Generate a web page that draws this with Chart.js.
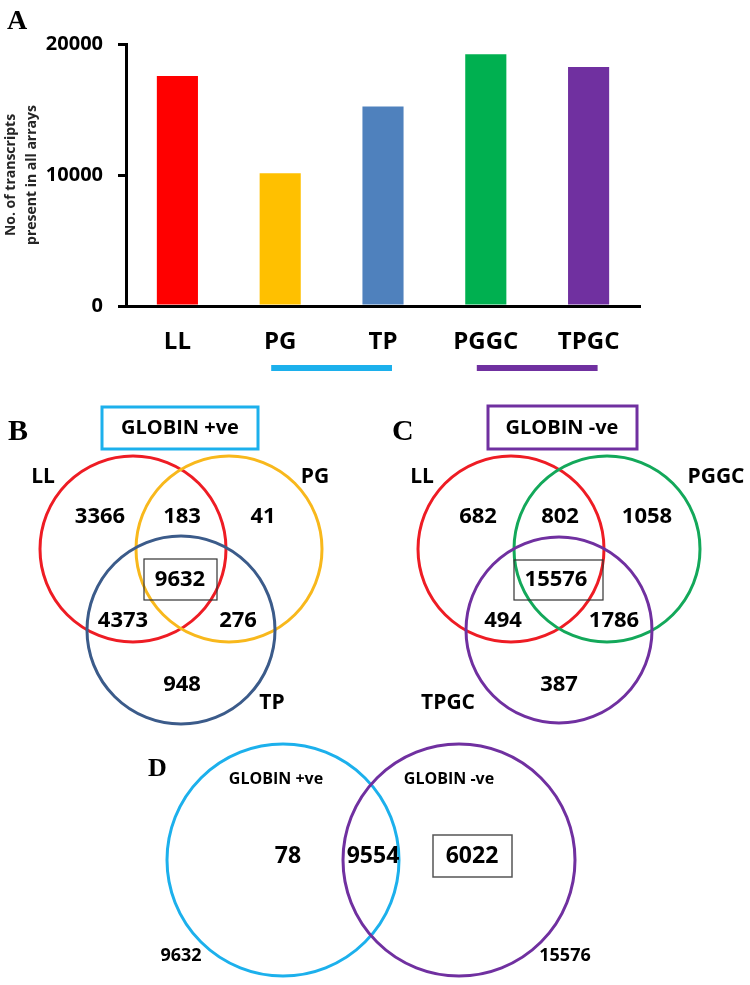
<!DOCTYPE html>
<html>
<head>
<meta charset="utf-8">
<script src="https://cdn.jsdelivr.net/npm/chart.js@4.4.0/dist/chart.umd.min.js"></script>
<style>
  html, body { margin: 0; padding: 0; background: #fff; }
  #wrap { position: relative; width: 750px; height: 985px; }
  canvas { position: absolute; left: 0; }
  #barChart { top: 0; }
  #vennChart { top: 385px; }
</style>
</head>
<body>
<div id="wrap">
  <canvas id="barChart" width="750" height="385"></canvas>
  <canvas id="vennChart" width="750" height="600"></canvas>
</div>
<script>
// ---- panel A data
var barCategories = ['LL', 'PG', 'TP', 'PGGC', 'TPGC'];
var barValues = [17554, 10132, 15229, 19222, 18243];
var barColors = ['#ff0000', '#ffc000', '#4f81bd', '#00b050', '#7030a0'];
var yTicks = [0, 10000, 20000];
var yTitle = ['No. of transcripts', 'present in all arrays'];
// category spans underlined below the axis
var groupSpans = [[1, 2], [3, 4]];
var groupColors = ['#1cb0ec', '#7030a0'];

// ---- panel B data (GLOBIN +ve)
var vennBTitle = 'GLOBIN +ve';
var vennBSets = ['LL', 'PG', 'TP'];
var vennBCounts = [3366, 183, 41, 9632, 4373, 276, 948];

// ---- panel C data (GLOBIN -ve)
var vennCTitle = 'GLOBIN -ve';
var vennCSets = ['LL', 'PGGC', 'TPGC'];
var vennCCounts = [682, 802, 1058, 15576, 494, 1786, 387];

// ---- panel D data
var vennDSets = ['GLOBIN +ve', 'GLOBIN -ve'];
var vennDTotals = [9632, 15576];
var vennDCounts = [78, 9554, 6022];

var FONT = "'Open Sans', 'DejaVu Sans', sans-serif";
var SERIF = "'Liberation Serif', 'DejaVu Serif', serif";

// ---- layout of the venn panels (page coordinates)
var circlesB = [{x: 133, y: 549, r: 93}, {x: 229, y: 549, r: 93}, {x: 181, y: 630, r: 94}];
var circleColorsB = ['#ee1c24', '#f8b81c', '#3b5b8a'];
var circlesC = [{x: 511, y: 549, r: 93}, {x: 607, y: 549, r: 93}, {x: 559, y: 630, r: 93}];
var circleColorsC = ['#ee1c24', '#13a85a', '#7030a0'];
var circlesD = [{x: 283, y: 860, r: 116}, {x: 459, y: 860, r: 116}];
var circleColorsD = ['#1cb0ec', '#7030a0'];

var countPosB = [[100, 517], [182, 517], [263, 517], [180, 580], [123, 621], [238, 621], [182, 685]];
var setPosB = [[43, 477], [315, 477], [272, 703]];
var countPosC = [[478, 517], [560, 517], [647, 517], [556, 580], [503, 621], [614, 621], [559, 685]];
var setPosC = [[422, 477], [716, 477], [448, 703]];

function drawText(ctx, txt, px, py, font, color, align) {
    ctx.font = font;
    ctx.fillStyle = color || '#000';
    ctx.textAlign = align || 'center';
    ctx.textBaseline = 'middle';
    ctx.fillText(txt, px, py);
}

function strokeBox(ctx, x0, y0, x1, y1, color, w) {
    ctx.strokeStyle = color;
    ctx.lineWidth = w;
    ctx.strokeRect(x0, y0, x1 - x0, y1 - y0);
}

// draws the panel letter and the group lines under the bars
var barExtras = {
    id: 'barExtras',
    afterDraw: function(chart) {
        var ctx = chart.ctx;
        var x = chart.scales.x;
        var y = chart.scales.y;
        ctx.save();
        ctx.font = 'bold 28px ' + SERIF;
        ctx.fillStyle = '#000';
        ctx.textAlign = 'left';
        ctx.textBaseline = 'alphabetic';
        ctx.fillText('A', 7, 29);

        groupSpans.forEach(function(span, i) {
            var lineY = y.getPixelForValue(0) + 62;
            ctx.strokeStyle = groupColors[i];
            ctx.lineWidth = 6;
            ctx.beginPath();
            ctx.moveTo(x.getPixelForValue(span[0]) - 9, lineY);
            ctx.lineTo(x.getPixelForValue(span[1]) + 9, lineY);
            ctx.stroke();
        });
        ctx.restore();
    }
};

new Chart(document.getElementById('barChart'), {
    type: 'bar',
    data: {
        labels: barCategories,
        datasets: [{
            data: barValues,
            backgroundColor: barColors,
            barPercentage: 0.4,
            categoryPercentage: 1
        }]
    },
    options: {
        responsive: false,
        animation: false,
        events: [],
        layout: {
            padding: {top: 44, right: 110, left: 0, bottom: 0}
        },
        plugins: {
            legend: {display: false},
            tooltip: {enabled: false}
        },
        scales: {
            x: {
                grid: {display: false},
                border: {color: '#000', width: 3},
                ticks: {
                    color: '#000',
                    padding: 14,
                    font: {family: FONT, size: 24, weight: 'bold'}
                },
                afterFit: function(s) { s.height = 79; }
            },
            y: {
                min: 0,
                max: 20000,
                afterBuildTicks: function(s) {
                    s.ticks = yTicks.map(function(v) { return {value: v}; });
                },
                grid: {
                    drawOnChartArea: false,
                    drawTicks: true,
                    tickLength: 8,
                    color: '#000',
                    lineWidth: 3
                },
                border: {color: '#000', width: 3},
                ticks: {
                    color: '#000',
                    padding: 15,
                    font: {family: FONT, size: 20, weight: 'bold'},
                    callback: function(v) { return String(v); }
                },
                title: {
                    display: true,
                    text: yTitle,
                    color: '#262626',
                    padding: {top: 1},
                    font: {family: FONT, size: 14, weight: 'bold', lineHeight: 1.5}
                },
                afterFit: function(s) { s.width = 126; }
            }
        }
    },
    plugins: [barExtras]
});

// text, boxes and letters of the venn panels
var vennText = {
    id: 'vennText',
    afterDatasetsDraw: function(chart) {
        var ctx = chart.ctx;
        var x = chart.scales.x;
        var y = chart.scales.y;
        var P = function(px, py) { return [x.getPixelForValue(px), y.getPixelForValue(py)]; };
        var num = 'bold 22px ' + FONT;
        var setFont = 'bold 21px ' + FONT;
        ctx.save();

        // panel letters
        ctx.fillStyle = '#000';
        ctx.textAlign = 'left';
        ctx.textBaseline = 'alphabetic';
        ctx.font = 'bold 30px ' + SERIF;
        var p = P(8, 440); ctx.fillText('B', p[0], p[1]);
        p = P(392, 440); ctx.fillText('C', p[0], p[1]);
        ctx.font = 'bold 26px ' + SERIF;
        p = P(148, 776); ctx.fillText('D', p[0], p[1]);

        // panel B
        var a = P(102, 407), b = P(258, 449);
        strokeBox(ctx, a[0], a[1], b[0], b[1], '#1cb0ec', 3);
        p = P(180, 428); drawText(ctx, vennBTitle, p[0], p[1], 'bold 20px ' + FONT);
        vennBSets.forEach(function(s, i) {
            var q = P(setPosB[i][0], setPosB[i][1]);
            drawText(ctx, s, q[0], q[1], setFont);
        });
        vennBCounts.forEach(function(c, i) {
            var q = P(countPosB[i][0], countPosB[i][1]);
            drawText(ctx, String(c), q[0], q[1], num);
        });
        a = P(144, 559); b = P(217, 600);
        strokeBox(ctx, a[0], a[1], b[0], b[1], '#333', 1.2);

        // panel C
        a = P(488, 406); b = P(637, 449);
        strokeBox(ctx, a[0], a[1], b[0], b[1], '#7030a0', 3);
        p = P(562, 428); drawText(ctx, vennCTitle, p[0], p[1], 'bold 20px ' + FONT);
        vennCSets.forEach(function(s, i) {
            var q = P(setPosC[i][0], setPosC[i][1]);
            drawText(ctx, s, q[0], q[1], setFont);
        });
        vennCCounts.forEach(function(c, i) {
            var q = P(countPosC[i][0], countPosC[i][1]);
            drawText(ctx, String(c), q[0], q[1], num);
        });
        a = P(514, 560); b = P(603, 600);
        strokeBox(ctx, a[0], a[1], b[0], b[1], '#333', 1.2);

        // panel D
        p = P(276, 779); drawText(ctx, vennDSets[0], p[0], p[1], 'bold 16px ' + FONT);
        p = P(449, 779); drawText(ctx, vennDSets[1], p[0], p[1], 'bold 16px ' + FONT);
        p = P(288, 856); drawText(ctx, String(vennDCounts[0]), p[0], p[1], 'bold 23px ' + FONT);
        p = P(373, 856); drawText(ctx, String(vennDCounts[1]), p[0], p[1], 'bold 23px ' + FONT);
        p = P(472, 856); drawText(ctx, String(vennDCounts[2]), p[0], p[1], 'bold 23px ' + FONT);
        a = P(433, 835); b = P(512, 877);
        strokeBox(ctx, a[0], a[1], b[0], b[1], '#555', 1.5);
        p = P(181, 956); drawText(ctx, String(vennDTotals[0]), p[0], p[1], 'bold 18px ' + FONT);
        p = P(565, 956); drawText(ctx, String(vennDTotals[1]), p[0], p[1], 'bold 18px ' + FONT);

        ctx.restore();
    }
};

var allCircles = circlesB.concat(circlesC, circlesD);
var allColors = circleColorsB.concat(circleColorsC, circleColorsD);

new Chart(document.getElementById('vennChart'), {
    type: 'bubble',
    data: {
        datasets: [{
            data: allCircles,
            borderColor: allColors,
            backgroundColor: 'rgba(0,0,0,0)',
            borderWidth: 3,
            hoverRadius: 0,
            clip: false
        }]
    },
    options: {
        responsive: false,
        animation: false,
        events: [],
        layout: {padding: 0, autoPadding: false},
        plugins: {
            legend: {display: false},
            tooltip: {enabled: false}
        },
        scales: {
            x: {type: 'linear', min: 0, max: 750, display: false},
            y: {type: 'linear', min: 385, max: 985, reverse: true, display: false}
        }
    },
    plugins: [vennText]
});
</script>
</body>
</html>
